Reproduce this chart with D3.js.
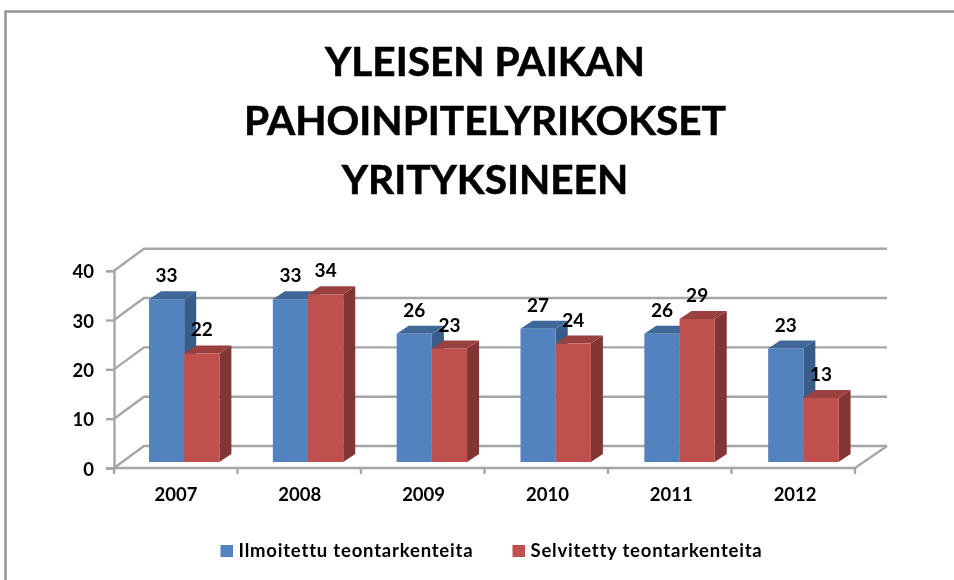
<!DOCTYPE html>
<html>
<head>
<meta charset="utf-8">
<script src="https://cdn.jsdelivr.net/npm/d3@7"></script>
<style>
    html, body { margin: 0; padding: 0; background: #fff; }
    /* the reference is a soft, upscaled screenshot */
    svg { display: block; font-family: Lato, "Open Sans", sans-serif; filter: blur(0.45px); }
</style>
</head>
<body>
<div id="chart"></div>
<script>
// values
let years = ['2007', '2008', '2009', '2010', '2011', '2012'];
let reported = [33, 33, 26, 27, 26, 23];
let solved = [22, 34, 23, 24, 29, 13];
let seriesNames = ['Ilmoitettu teontarkenteita', 'Selvitetty teontarkenteita'];
let titleLines = ['YLEISEN PAIKAN', 'PAHOINPITELYRIKOKSET', 'YRITYKSINEEN'];
let yTicks = [0, 10, 20, 30, 40];

let frontColors = ['#5283be', '#c0504d'];
let topColors = ['#3f6797', '#9a403e'];
let sideColors = ['#385d8a', '#823533'];

let width = 954;
let height = 580;

// 3d offset of the back wall and of the bar depth
let wall = { dx: 30, dy: -22 };
let depth = { dx: 12, dy: -8 };
let barLift = 6;
let axisEnd = 855;

var svg = d3.select("#chart")
    .append("svg")
    .attr("width", width)
    .attr("height", height);

// picture frame
svg.append("path")
    .attr("d", "M5.5,580V11.5H954")
    .attr("fill", "none")
    .attr("stroke", "#969696")
    .attr("stroke-width", 2.5);

// title
svg.append("g").selectAll("text")
    .data(titleLines)
    .enter()
    .append("text")
    .attr("x", 485)
    .attr("y", function (d, i) { return 76 + i * 59 })
    .attr("text-anchor", "middle")
    .attr("font-size", 40.6)
    .attr("font-weight", 700)
    .attr("fill", "#000")
    .attr("stroke", "#000")
    .attr("stroke-width", 0.6)
    .text(function (d) { return d });

// scales
var x = d3.scaleBand()
    .domain(years)
    .range([114, 857]);

var y = d3.scaleLinear()
    .domain([0, 40])
    .range([468, 270.7]);

var inner = d3.scaleBand()
    .domain([0, 1])
    .range([35, 35 + 70.4]);

let grid = "#a6a6a6";

// floor and back wall grid
var gridG = svg.append("g")
    .attr("fill", "none")
    .attr("stroke", grid)
    .attr("stroke-width", 2.4);

gridG.selectAll("path")
    .data(yTicks)
    .enter()
    .append("path")
    .attr("d", function (d) {
        let y0 = y(d);
        return "M114," + y0 + "L" + (114 + wall.dx) + "," + (y0 + wall.dy) + "H" + (axisEnd + wall.dx + 2);
    });

// right edge of the floor
gridG.append("path")
    .attr("d", "M" + axisEnd + "," + y(0) + "L" + (axisEnd + wall.dx + 2) + "," + (y(0) + wall.dy));

// y axis
var yAxis = svg.append("g")
    .attr("transform", "translate(114,0)")
    .call(d3.axisLeft(y).tickValues(yTicks).tickSize(8).tickPadding(12));
yAxis.selectAll("path, line").attr("stroke", grid).attr("stroke-width", 2.4);
yAxis.selectAll("text")
    .attr("font-size", 18.5)
    .attr("font-family", "Lato, sans-serif")
    .attr("font-weight", 700)
    .attr("fill", "#000")
    .attr("dy", "0.38em");

// x axis: labels from the band scale, ticks on the band edges
var xAxis = svg.append("g")
    .attr("transform", "translate(0," + y(0) + ")")
    .call(d3.axisBottom(x).tickSize(0).tickPadding(20));
xAxis.select("path").remove();
xAxis.selectAll("text")
    .attr("font-size", 18.5)
    .attr("font-family", "Lato, sans-serif")
    .attr("font-weight", 700)
    .attr("fill", "#000");

gridG.append("path")
    .attr("d", "M114," + y(0) + "H" + axisEnd);

var xTicks = d3.scaleLinear()
    .domain([0, years.length])
    .range([114, axisEnd]);

svg.append("g")
    .selectAll("line")
    .data(d3.range(years.length + 1))
    .enter()
    .append("line")
    .attr("x1", function (d) { return xTicks(d) })
    .attr("x2", function (d) { return xTicks(d) })
    .attr("y1", y(0))
    .attr("y2", y(0) + 6)
    .attr("stroke", grid)
    .attr("stroke-width", 2.4);

// bars
let barData = [];
years.forEach(function (yr, i) {
    // red bar after the blue one so it overlaps the blue side face
    barData.push({ year: yr, s: 0, value: reported[i] });
    barData.push({ year: yr, s: 1, value: solved[i] });
});

var bars = svg.append("g").selectAll("g")
    .data(barData)
    .enter()
    .append("g")
    .attr("transform", function (d) {
        return "translate(" + (x(d.year) + inner(d.s)) + ",0)";
    });

bars.append("path")
    .attr("fill", function (d) { return sideColors[d.s] })
    .attr("d", function (d) {
        let w = inner.bandwidth();
        let t = y(d.value) - barLift;
        let b = y(0) - barLift;
        return "M" + w + "," + t + "l" + depth.dx + "," + depth.dy + "V" + (b + depth.dy) + "l" + (-depth.dx) + "," + (-depth.dy) + "Z";
    });

bars.append("path")
    .attr("fill", function (d) { return topColors[d.s] })
    .attr("d", function (d) {
        let w = inner.bandwidth();
        let t = y(d.value) - barLift;
        return "M0," + t + "l" + depth.dx + "," + depth.dy + "h" + w + "l" + (-depth.dx) + "," + (-depth.dy) + "Z";
    });

bars.append("rect")
    .attr("x", 0)
    .attr("y", function (d) { return y(d.value) - barLift })
    .attr("width", inner.bandwidth())
    .attr("height", function (d) { return y(0) - y(d.value) })
    .attr("fill", function (d) { return frontColors[d.s] });

// value labels
svg.append("g").selectAll("text")
    .data(barData)
    .enter()
    .append("text")
    .attr("x", function (d) { return x(d.year) + inner(d.s) + inner.bandwidth() / 2 })
    .attr("y", function (d) { return y(d.value) - barLift - 17 })
    .attr("text-anchor", "middle")
    .attr("font-size", 19)
    .attr("font-weight", 700)
    .attr("fill", "#000")
    .text(function (d) { return d.value });

// legend
var legend = svg.append("g").selectAll("g")
    .data(seriesNames)
    .enter()
    .append("g")
    .attr("transform", function (d, i) { return "translate(" + [220.5, 512.5][i] + ",545)" });

legend.append("rect")
    .attr("width", 12.5)
    .attr("height", 12)
    .attr("fill", function (d, i) { return frontColors[i] });

legend.append("text")
    .attr("x", 18)
    .attr("y", 11.7)
    .attr("font-size", 18.5)
    .attr("font-weight", 700)
    .attr("letter-spacing", 0.8)
    .attr("fill", "#000")
    .text(function (d) { return d });
</script>
</body>
</html>
